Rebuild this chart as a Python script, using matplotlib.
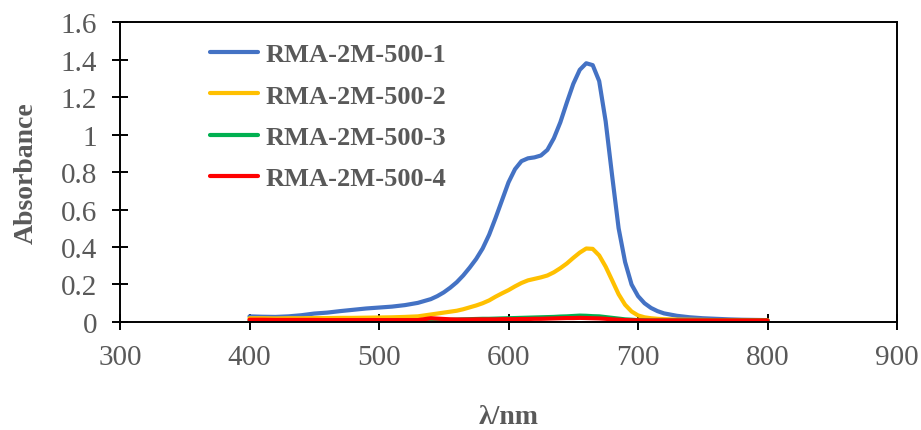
import matplotlib.pyplot as plt

plt.rcParams["font.family"] = ["Liberation Serif", "DejaVu Serif"]

# wavelength grid (nm), finer around the main band
wavelength = [400, 410, 420, 430, 440, 450, 460, 470, 480, 490,
              500, 510, 520, 530, 540,
              545, 550, 555, 560, 565, 570, 575, 580, 585, 590,
              595, 600, 605, 610, 615, 620, 625, 630, 635, 640,
              645, 650, 655, 660, 665, 670, 675, 680, 685, 690,
              695, 700, 705, 710, 715, 720,
              730, 740, 750, 760, 770, 780, 790, 800]

abs_1 = [0.030, 0.028, 0.027, 0.030, 0.036, 0.045, 0.050, 0.058, 0.065, 0.072,
         0.077, 0.082, 0.090, 0.102, 0.122,
         0.138, 0.158, 0.183, 0.212, 0.248, 0.290, 0.336, 0.392, 0.465, 0.555,
         0.650, 0.745, 0.815, 0.858, 0.873, 0.878, 0.888, 0.918, 0.980, 1.065,
         1.170, 1.270, 1.345, 1.380, 1.370, 1.285, 1.070, 0.780, 0.500, 0.320,
         0.200, 0.138, 0.100, 0.075, 0.058, 0.046,
         0.033, 0.025, 0.020, 0.017, 0.014, 0.012, 0.011, 0.010]

abs_2 = [0.020, 0.020, 0.019, 0.020, 0.020, 0.021, 0.021, 0.022, 0.022, 0.023,
         0.024, 0.025, 0.027, 0.030, 0.040,
         0.045, 0.050, 0.055, 0.060, 0.068, 0.078, 0.088, 0.100, 0.115, 0.135,
         0.153, 0.170, 0.190, 0.208, 0.222, 0.230, 0.238, 0.248, 0.265, 0.287,
         0.312, 0.342, 0.370, 0.392, 0.390, 0.355, 0.295, 0.222, 0.148, 0.092,
         0.056, 0.035, 0.025, 0.020, 0.017, 0.015,
         0.013, 0.012, 0.011, 0.010, 0.010, 0.010, 0.010, 0.010]

abs_3 = [0.008, 0.008, 0.008, 0.008, 0.008, 0.008, 0.008, 0.008, 0.008, 0.008,
         0.008, 0.008, 0.008, 0.008, 0.010,
         0.011, 0.012, 0.012, 0.013, 0.014, 0.015, 0.016, 0.017, 0.017, 0.018,
         0.019, 0.020, 0.021, 0.022, 0.023, 0.024, 0.025, 0.026, 0.027, 0.029,
         0.030, 0.032, 0.034, 0.033, 0.031, 0.030, 0.026, 0.022, 0.018, 0.014,
         0.012, 0.010, 0.009, 0.008, 0.008, 0.008,
         0.008, 0.008, 0.008, 0.008, 0.008, 0.008, 0.008, 0.008]

abs_4 = [0.012, 0.012, 0.011, 0.011, 0.011, 0.011, 0.010, 0.010, 0.010, 0.010,
         0.010, 0.010, 0.010, 0.010, 0.020,
         0.018, 0.016, 0.014, 0.013, 0.013, 0.013, 0.014, 0.014, 0.014, 0.014,
         0.015, 0.015, 0.015, 0.016, 0.016, 0.017, 0.017, 0.018, 0.019, 0.020,
         0.021, 0.021, 0.022, 0.021, 0.020, 0.019, 0.017, 0.014, 0.012, 0.010,
         0.009, 0.009, 0.008, 0.008, 0.008, 0.008,
         0.008, 0.008, 0.008, 0.008, 0.008, 0.008, 0.008, 0.008]

labels = ["RMA-2M-500-1", "RMA-2M-500-2", "RMA-2M-500-3", "RMA-2M-500-4"]
colors = ["#4472C4", "#FFC000", "#00B050", "#FF0000"]

fig = plt.figure(figsize=(9.21, 4.31), dpi=100)
ax = fig.add_axes([0.1303, 0.2506, 0.8437, 0.696])

for y, lab, c in zip([abs_1, abs_2, abs_3, abs_4], labels, colors):
    ax.plot(wavelength, y, color=c, lw=3, label=lab,
            solid_capstyle="round", solid_joinstyle="round")

ax.set_xlim(300, 900)
ax.set_ylim(0, 1.6)
ax.set_xticks(range(300, 901, 100))
ax.set_yticks([0, 0.2, 0.4, 0.6, 0.8, 1.0, 1.2, 1.4, 1.6])
ax.set_yticklabels(["0", "0.2", "0.4", "0.6", "0.8", "1", "1.2", "1.4", "1.6"])

for s in ax.spines.values():
    s.set_linewidth(1.4)
    s.set_color("black")
ax.tick_params(direction="inout", length=11, width=1.4, labelsize=21,
               labelcolor="#595959")
ax.tick_params(axis="x", pad=10)
ax.tick_params(axis="y", pad=11)

ax.set_ylabel("Absorbance", fontsize=20, fontweight="bold", color="#595959",
              labelpad=16)
ax.set_xlabel("λ/nm", fontsize=20, fontweight="bold", color="#595959",
              labelpad=25)

leg = ax.legend(loc="upper left", bbox_to_anchor=(0.099, 0.975), frameon=False,
                prop={"size": 19, "weight": "bold"}, handlelength=1.82,
                handletextpad=0.27, labelspacing=0.68, borderpad=0)
for t in leg.get_texts():
    t.set_color("#595959")

plt.savefig("out.png", dpi=100)
